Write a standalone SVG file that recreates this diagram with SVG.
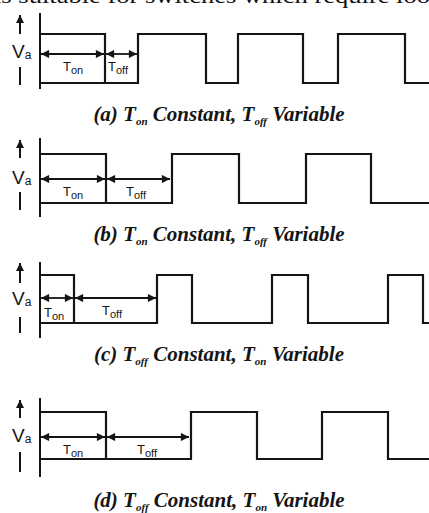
<svg xmlns="http://www.w3.org/2000/svg" width="429" height="513" viewBox="0 0 429 513">
<defs>
<marker id="ah" viewBox="0 0 10 10" refX="10" refY="5" markerWidth="5.5" markerHeight="4.5" orient="auto-start-reverse" markerUnits="strokeWidth">
<path d="M0,0 L10,5 L0,10 z" fill="#151515"/>
</marker>
<marker id="up" viewBox="0 0 10 10" refX="10" refY="5" markerWidth="4" markerHeight="4" orient="auto" markerUnits="strokeWidth">
<path d="M0,0 L10,5 L0,10 z" fill="#151515"/>
</marker>
</defs>
<style>
.w{fill:none;stroke:#151515;stroke-width:2.2;stroke-linejoin:miter}
.ax{fill:none;stroke:#151515;stroke-width:2}
.dim{stroke:#151515;stroke-width:1.8;marker-start:url(#ah);marker-end:url(#ah)}
.ua{stroke:#151515;stroke-width:2;marker-end:url(#up)}
.lab{font-family:"Liberation Sans",Arial,sans-serif;font-size:13px;fill:#151515}
.sub{font-size:11px}
.va{font-family:"Liberation Sans",Arial,sans-serif;font-size:19px;fill:#151515}
.vs{font-size:12px}
.cap{font-family:"Liberation Serif","Times New Roman",serif;font-style:italic;font-weight:bold;font-size:21px;fill:#151515}
.csub{font-size:11px}
.top{font-family:"Liberation Serif","Times New Roman",serif;font-size:21px;fill:#111}
</style>
<rect width="429" height="513" fill="#fff"/>
<text class="top" x="-6" y="3" textLength="436" lengthAdjust="spacingAndGlyphs">is suitable for switches which require loo</text>

<g id="panel-a">
<line class="ax" x1="40" y1="13" x2="40" y2="89"/>
<line class="ua" x1="20" y1="34" x2="20" y2="15"/>
<line class="ax" x1="20" y1="67" x2="20" y2="85"/>
<text class="va" x="12" y="58">V<tspan class="vs" dy="1">a</tspan></text>
<path class="w" d="M40,34 H105 V83 H138 V34 H206 V83 H238 V34 H303 V83 H338 V34 H405 V83 H429"/>
<line class="ax" x1="40" y1="83" x2="105" y2="83"/>
<line class="dim" x1="41" y1="54" x2="104" y2="54"/>
<line class="dim" x1="106" y1="54" x2="137" y2="54"/>
<text class="lab" x="63" y="71">T<tspan class="sub" dy="3">on</tspan></text>
<text class="lab" x="108" y="71">T<tspan class="sub" dy="3">off</tspan></text>
<text class="cap" x="219" y="121" text-anchor="middle">(a) T<tspan class="csub" dy="4">on</tspan><tspan dy="-4"> Constant, T</tspan><tspan class="csub" dy="4">off</tspan><tspan dy="-4"> Variable</tspan></text>
</g>

<g id="panel-b">
<line class="ax" x1="40" y1="138" x2="40" y2="217"/>
<line class="ua" x1="20" y1="158" x2="20" y2="140"/>
<line class="ax" x1="20" y1="192" x2="20" y2="210"/>
<text class="va" x="12" y="184">V<tspan class="vs" dy="1">a</tspan></text>
<path class="w" d="M40,154 H106 V203 H172 V154 H239 V203 H306 V154 H371 V203 H429"/>
<line class="ax" x1="40" y1="203" x2="106" y2="203"/>
<line class="dim" x1="41" y1="179" x2="105" y2="179"/>
<line class="dim" x1="107" y1="179" x2="170" y2="179"/>
<text class="lab" x="63" y="196">T<tspan class="sub" dy="3">on</tspan></text>
<text class="lab" x="126" y="196">T<tspan class="sub" dy="3">off</tspan></text>
<text class="cap" x="219" y="241" text-anchor="middle">(b) T<tspan class="csub" dy="4">on</tspan><tspan dy="-4"> Constant, T</tspan><tspan class="csub" dy="4">off</tspan><tspan dy="-4"> Variable</tspan></text>
</g>

<g id="panel-c">
<line class="ax" x1="40" y1="262" x2="40" y2="338"/>
<line class="ua" x1="20" y1="283" x2="20" y2="263"/>
<line class="ax" x1="20" y1="317" x2="20" y2="333"/>
<text class="va" x="12" y="305">V<tspan class="vs" dy="1">a</tspan></text>
<path class="w" d="M40,275 H74 V323 H157 V275 H192 V323 H272 V275 H308 V323 H388 V275 H423 V323 H429"/>
<line class="ax" x1="40" y1="323" x2="74" y2="323"/>
<line class="dim" x1="41" y1="298" x2="73" y2="298"/>
<line class="dim" x1="75" y1="298" x2="156" y2="298"/>
<text class="lab" x="44" y="317">T<tspan class="sub" dy="3">on</tspan></text>
<text class="lab" x="102" y="315">T<tspan class="sub" dy="3">off</tspan></text>
<text class="cap" x="219" y="361" text-anchor="middle">(c) T<tspan class="csub" dy="4">off</tspan><tspan dy="-4"> Constant, T</tspan><tspan class="csub" dy="4">on</tspan><tspan dy="-4"> Variable</tspan></text>
</g>

<g id="panel-d">
<line class="ax" x1="40" y1="398" x2="40" y2="477"/>
<line class="ua" x1="20" y1="418" x2="20" y2="400"/>
<line class="ax" x1="20" y1="452" x2="20" y2="472"/>
<text class="va" x="12" y="442">V<tspan class="vs" dy="1">a</tspan></text>
<path class="w" d="M40,412 H106 V459 H191 V412 H257 V459 H322 V412 H388 V459 H429"/>
<line class="ax" x1="40" y1="459" x2="106" y2="459"/>
<line class="dim" x1="41" y1="437" x2="105" y2="437"/>
<line class="dim" x1="107" y1="437" x2="189" y2="437"/>
<text class="lab" x="63" y="454">T<tspan class="sub" dy="3">on</tspan></text>
<text class="lab" x="137" y="454">T<tspan class="sub" dy="3">off</tspan></text>
<text class="cap" x="219" y="507" text-anchor="middle">(d) T<tspan class="csub" dy="4">off</tspan><tspan dy="-4"> Constant, T</tspan><tspan class="csub" dy="4">on</tspan><tspan dy="-4"> Variable</tspan></text>
</g>
</svg>
